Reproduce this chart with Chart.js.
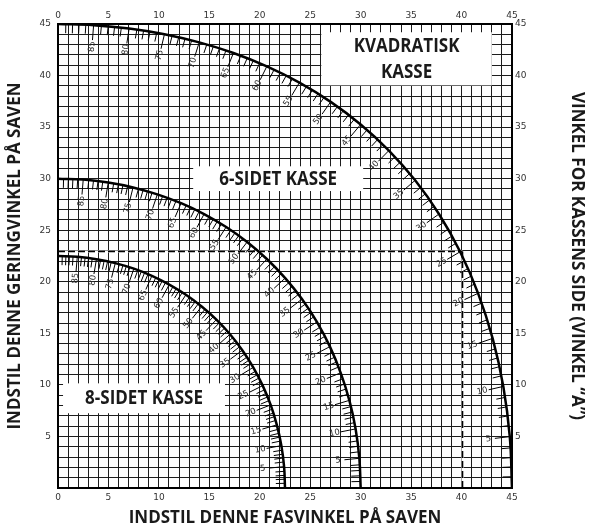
<!DOCTYPE html>
<html><head><meta charset="utf-8">
<script src="https://cdn.jsdelivr.net/npm/chart.js@4.4.0/dist/chart.umd.min.js"></script>
<style>html,body{margin:0;padding:0;background:#fff;}canvas{display:block;}</style>
</head><body>
<canvas id="c" width="592" height="528"></canvas>
<script>
// Side angle of the box ("vinkel A") at each labelled point along the curves
const sideAngles = [90,85,80,75,70,65,60,55,50,45,40,35,30,25,20,15,10,5,0];
// Square box (KVADRATISK KASSE): bevel (x) and miter (y)
const squareBevel = [0,3.53,7.05,10.55,14.00,17.39,20.70,23.93,27.03,30.00,32.80,35.40,37.76,39.86,41.64,43.08,44.14,44.78,45];
const squareMiter = [45,44.89,44.56,44.01,43.22,42.19,40.89,39.32,37.45,35.26,32.73,29.84,26.57,22.91,18.88,14.51,9.85,4.98,0];
// 6-sided box
const hexBevel = [0,2.50,4.98,7.44,9.85,12.20,14.48,16.67,18.75,20.70,22.52,24.18,25.66,26.95,28.02,28.88,29.50,29.87,30];
const hexMiter = [30,29.91,29.62,29.15,28.48,27.62,26.57,25.31,23.86,22.21,20.36,18.32,16.10,13.71,11.17,8.50,5.73,2.88,0];
// 8-sided box
const octBevel = [0,1.91,3.81,5.68,7.52,9.31,11.03,12.68,14.24,15.70,17.05,18.27,19.35,20.29,21.08,21.69,22.14,22.41,22.5];
const octMiter = [22.5,22.42,22.19,21.81,21.27,20.58,19.73,18.74,17.60,16.33,14.91,13.36,11.70,9.93,8.06,6.12,4.11,2.07,0];
// labelled side angles along each curve
const arcLabels = [85,80,75,70,65,60,55,50,45,40,35,30,25,20,15,10,5];
// axis tick labels
const xTickLabels = [0,5,10,15,20,25,30,35,40,45];
const yTickLabels = [5,10,15,20,25,30,35,40,45];
// example reading (dashed guide lines)
const exampleBevel = [40];
const exampleMiter = [23];
// text
const xTitle = 'INDSTIL DENNE FASVINKEL PÅ SAVEN';
const yTitle = 'INDSTIL DENNE GERINGVINKEL PÅ SAVEN';
const y2Title = 'VINKEL FOR KASSENS SIDE (VINKEL “A”)';
const boxNames = [['KVADRATISK','KASSE'],['6-SIDET KASSE'],['8-SIDET KASSE']];

Chart.defaults.font.family = "'DejaVu Sans', sans-serif";

const boxGeom = [
  {x0:26.1, x1:43.0, y0:39.05, y1:44.2, lh:26},
  {x0:13.4, x1:30.25, y0:28.8, y1:31.2, lh:0},
  {x0:0.5, x1:16.55, y0:7.25, y1:10.15, lh:0}
];

function bez(p0,c1,c2,p1,s){const u=1-s;return u*u*u*p0+3*u*u*s*c1+3*u*s*s*c2+s*s*s*p1;}

const overlay = {
  id:'overlay',
  beforeDatasetsDraw(chart){
    const {ctx, scales:{x,y}} = chart;
    ctx.save();
    ctx.fillStyle = '#fff';
    boxGeom.forEach(b=>{
      const l=x.getPixelForValue(b.x0), r=x.getPixelForValue(b.x1);
      const t=y.getPixelForValue(b.y1), bt=y.getPixelForValue(b.y0);
      ctx.fillRect(l,t,r-l,bt-t);
    });
    const px0=x.getPixelForValue(0), pxE=x.getPixelForValue(exampleBevel[0]);
    const py0=y.getPixelForValue(0), pyE=y.getPixelForValue(exampleMiter[0]);
    const ay = Math.round(pyE)+0.5, ax = Math.round(pxE)+0.5;
    ctx.strokeStyle='#fff'; ctx.lineWidth=2.2;
    ctx.beginPath(); ctx.moveTo(px0+1,ay); ctx.lineTo(ax,ay); ctx.moveTo(ax,py0-1); ctx.lineTo(ax,ay); ctx.stroke();
    ctx.setLineDash([7,3]); ctx.strokeStyle='#000'; ctx.lineWidth=1.6;
    ctx.beginPath(); ctx.moveTo(px0,ay); ctx.lineTo(ax,ay); ctx.stroke();
    ctx.beginPath(); ctx.moveTo(ax,py0); ctx.lineTo(ax,ay); ctx.stroke();
    ctx.restore();
  },
  afterDatasetsDraw(chart){
    const {ctx, scales:{x,y}} = chart;
    const ox = x.getPixelForValue(0), oy = y.getPixelForValue(0);
    ctx.save();
    chart.data.datasets.forEach((ds,di)=>{
      const pts = chart.getDatasetMeta(di).data;
      ctx.strokeStyle='#000'; ctx.lineWidth=1;
      const tick=(px,py,len)=>{
        const dx=ox-px, dy=oy-py, d=Math.hypot(dx,dy);
        ctx.beginPath(); ctx.moveTo(px,py); ctx.lineTo(px+dx/d*len, py+dy/d*len); ctx.stroke();
      };
      for(let j=0;j<pts.length;j++){
        const p=pts[j];
        const a=sideAngles[j];
        if(arcLabels.includes(a)){
          tick(p.x,p.y,15);
          const dx=ox-p.x, dy=oy-p.y, d=Math.hypot(dx,dy);
          const cx=p.x+dx/d*21.5, cy=p.y+dy/d*21.5;
          ctx.save();
          ctx.translate(cx,cy);
          ctx.rotate(Math.atan2(p.y-oy,p.x-ox));
          ctx.fillStyle='#2a2a2a'; ctx.font="8.5px 'DejaVu Sans', sans-serif";
          ctx.textAlign='center'; ctx.textBaseline='middle';
          ctx.fillText(String(a),0,0);
          ctx.restore();
        }
        if(j<pts.length-1){
          const q=pts[j+1];
          const c1x=p.cp2x??p.x, c1y=p.cp2y??p.y, c2x=q.cp1x??q.x, c2y=q.cp1y??q.y;
          for(let k=1;k<5;k++){
            const s=k/5;
            tick(bez(p.x,c1x,c2x,q.x,s), bez(p.y,c1y,c2y,q.y,s), 9);
          }
        }
      }
    });
    // box labels
    ctx.fillStyle='#1a1a1a';
    ctx.font="bold 20px 'Open Sans', sans-serif";
    ctx.textAlign='center'; ctx.textBaseline='alphabetic';
    boxGeom.forEach((b,i)=>{
      const l=x.getPixelForValue(b.x0), r=x.getPixelForValue(b.x1);
      const t=y.getPixelForValue(b.y1), bt=y.getPixelForValue(b.y0);
      const cx=(l+r)/2, cy=(t+bt)/2 - 1;
      const lines=boxNames[i];
      lines.forEach((txt,li)=>{
        const ly = cy + (li-(lines.length-1)/2)*b.lh;
        ctx.save(); ctx.translate(cx, ly+7.1); ctx.scale(0.85,1); ctx.fillText(txt,0,0); ctx.restore();
      });
    });
    ctx.restore();
  }
};

const curveStyle = {showLine:true, pointRadius:0, borderColor:'#000', backgroundColor:'#000', borderWidth:2.5, tension:0.4, fill:false};
const toPts = (bx,my)=>sideAngles.map((a,i)=>({x:bx[i], y:my[i]}));

const tickFont = {family:"'DejaVu Sans', sans-serif", size:9};
const titleFont = {family:"'Open Sans', sans-serif", size:17, weight:'bold'};
const gridStyle = {color:'#1c1c1c', lineWidth:1, drawTicks:false};

new Chart(document.getElementById('c'), {
  type:'scatter',
  data:{datasets:[
    Object.assign({label:'Kvadratisk kasse', data:toPts(squareBevel,squareMiter)}, curveStyle),
    Object.assign({label:'6-sidet kasse', data:toPts(hexBevel,hexMiter)}, curveStyle),
    Object.assign({label:'8-sidet kasse', data:toPts(octBevel,octMiter)}, curveStyle)
  ]},
  options:{
    responsive:false, animation:false, events:[], devicePixelRatio:1,
    layout:{padding:0},
    plugins:{legend:{display:false}, tooltip:{enabled:false}},
    scales:{
      x:{type:'linear', position:'bottom', min:0, max:45,
        ticks:{stepSize:1, autoSkip:false, maxRotation:0, maxTicksLimit:100, padding:4, color:'#333', font:tickFont,
          callback:v=>xTickLabels.includes(v)?String(v):''},
        grid:gridStyle, border:{color:'#000', width:2},
        title:{display:true, text:xTitle, color:'#1a1a1a', font:titleFont, padding:{top:0,bottom:0}},
        afterFit:s=>{s.height=40;}},
      x2:{type:'linear', position:'top', min:0, max:45,
        ticks:{stepSize:1, autoSkip:false, maxRotation:0, maxTicksLimit:100, padding:3, color:'#333', font:tickFont,
          callback:v=>xTickLabels.includes(v)?String(v):''},
        grid:{drawOnChartArea:false, drawTicks:false}, border:{color:'#000', width:2},
        afterFit:s=>{s.height=24;}},
      y:{type:'linear', position:'left', min:0, max:45,
        ticks:{stepSize:1, autoSkip:false, maxTicksLimit:100, padding:7, color:'#333', font:tickFont,
          callback:v=>yTickLabels.includes(v)?String(v):''},
        grid:gridStyle, border:{color:'#000', width:2},
        title:{display:true, text:yTitle, color:'#1a1a1a', font:titleFont, padding:{top:5,bottom:0}},
        afterFit:s=>{s.width=58;}},
      y2:{type:'linear', position:'right', min:0, max:45,
        ticks:{stepSize:1, autoSkip:false, maxTicksLimit:100, padding:3, color:'#333', font:tickFont,
          callback:v=>yTickLabels.includes(v)?String(v):''},
        grid:{drawOnChartArea:false, drawTicks:false}, border:{color:'#000', width:2},
        title:{display:true, text:y2Title, color:'#1a1a1a', font:titleFont, padding:{top:5,bottom:0}},
        afterFit:s=>{s.width=80;}}
    }
  },
  plugins:[overlay]
});
</script>
</body></html>
